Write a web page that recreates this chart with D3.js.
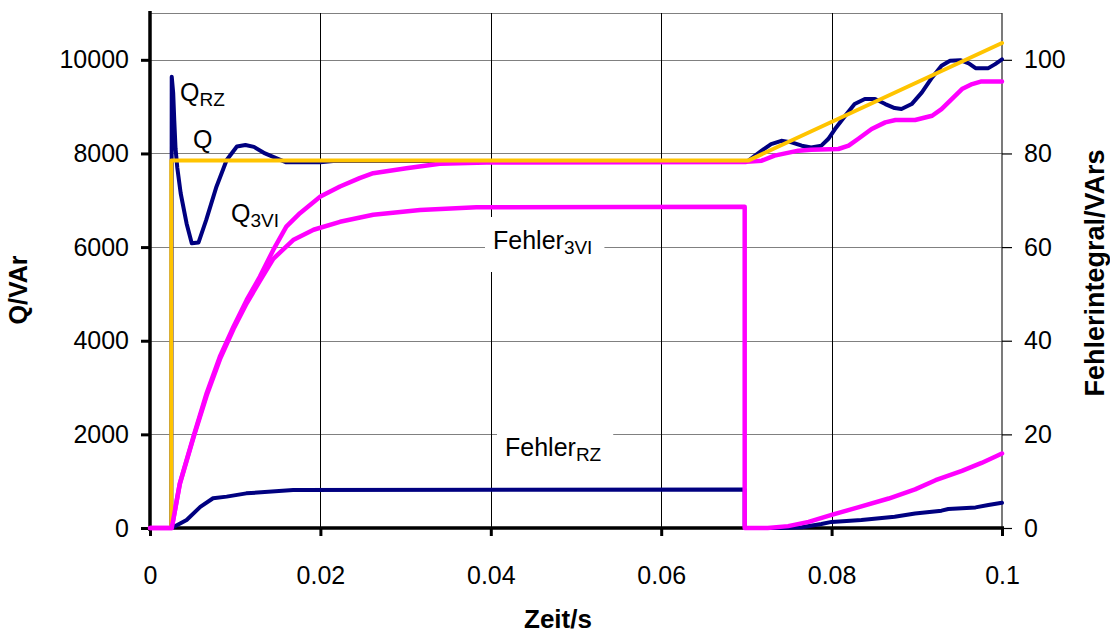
<!DOCTYPE html>
<html>
<head>
<meta charset="utf-8">
<script src="https://cdn.jsdelivr.net/npm/d3@7"></script>
<style>
  html, body { margin: 0; padding: 0; background: #fff; }
  svg { display: block; font-family: "Liberation Sans", Arial, sans-serif; }
</style>
</head>
<body>
<svg id="chart" width="1110" height="633"></svg>
<script>
// Tick values
const timeTicks = [0, 0.02, 0.04, 0.06, 0.08, 0.1];
const qTicks = [0, 2000, 4000, 6000, 8000, 10000];
const errTicks = [0, 20, 40, 60, 80, 100];

// Q (reference reactive power), VAr
const qTime  = [0, 0.0025, 0.0025, 0.0702, 0.1];
const qValue = [0, 0, 7848, 7848, 10360];

// Q_RZ, VAr
const qRzTime  = [0, 0.0025, 0.00255, 0.00272, 0.00285, 0.0030, 0.0032, 0.0036, 0.0043, 0.0049, 0.0057,
  0.0066, 0.0078, 0.009, 0.0102, 0.0112, 0.0122, 0.0135, 0.0148, 0.016, 0.02, 0.0215, 0.0702,
  0.0718, 0.0729, 0.0741, 0.0753, 0.0765, 0.0776, 0.0788, 0.0796, 0.0804, 0.0816, 0.0827, 0.0839,
  0.0851, 0.0863, 0.0874, 0.0882, 0.0894, 0.0906, 0.0918, 0.0929, 0.0939, 0.0951, 0.0961, 0.0969,
  0.0984, 0.0992, 0.1];
const qRzValue = [0, 0, 9640, 9300, 8700, 8100, 7700, 7150, 6500, 6080, 6100,
  6580, 7290, 7860, 8150, 8180, 8140, 8000, 7900, 7810, 7810, 7840, 7840,
  8060, 8200, 8270, 8237, 8166, 8130, 8166, 8308, 8522, 8806, 9055, 9162,
  9162, 9055, 8970, 8948, 9055, 9304, 9624, 9872, 9979, 9993, 9922, 9822,
  9822, 9908, 10010];

// Q_3VI, VAr
const q3viTime  = [0, 0.00255, 0.0035, 0.0051, 0.00665, 0.0082, 0.0098, 0.01135, 0.0129, 0.01447,
  0.016, 0.0176, 0.02, 0.0223, 0.0246, 0.0262, 0.0301, 0.034, 0.0395, 0.07, 0.0718, 0.0733,
  0.0761, 0.0776, 0.0808, 0.082, 0.0831, 0.0847, 0.0863, 0.0875, 0.0898, 0.0918, 0.0929,
  0.0941, 0.0953, 0.0965, 0.0976, 0.1];
const q3viValue = [0, 0, 955, 1951, 2878, 3660, 4301, 4872, 5370, 5940,
  6438, 6724, 7079, 7293, 7472, 7578, 7685, 7778, 7805, 7820, 7846, 7953,
  8060, 8081, 8095, 8166, 8308, 8522, 8664, 8714, 8714, 8806, 8948,
  9162, 9375, 9482, 9539, 9539];

// Fehler_RZ (error integral), VArs
const errRzTime  = [0, 0.00255, 0.0043, 0.0059, 0.0074, 0.009, 0.0113, 0.0168, 0.0698, 0.0698,
  0.0741, 0.0765, 0.0788, 0.08, 0.0835, 0.0874, 0.0898, 0.0929, 0.0937, 0.0969, 0.0984, 0.1];
const errRzValue = [0, 0, 1.7, 4.5, 6.35, 6.7, 7.4, 8.1, 8.2, 0,
  0, 0.15, 0.85, 1.3, 1.7, 2.4, 3.1, 3.7, 4.05, 4.4, 4.9, 5.4];

// Fehler_3VI (error integral), VArs
const err3viTime  = [0, 0.00255, 0.0035, 0.0051, 0.00665, 0.0082, 0.0098, 0.01135, 0.0129, 0.01447,
  0.0168, 0.0192, 0.0223, 0.0262, 0.0317, 0.0383, 0.0698, 0.0698, 0.0725, 0.0749, 0.0773,
  0.08, 0.0831, 0.0867, 0.0898, 0.0922, 0.0953, 0.0976, 0.1];
const err3viValue = [0, 0, 9.4, 19.3, 28.3, 36.0, 42.5, 48.0, 52.8, 57.5,
  61.5, 63.7, 65.4, 66.9, 67.9, 68.5, 68.6, 0, 0, 0.4, 1.3,
  2.8, 4.4, 6.3, 8.25, 10.2, 12.2, 13.9, 15.9];

const NAVY = "#000080", GOLD = "#FFC400", PINK = "#FF00FF";

const svg = d3.select("#chart");
const plotLeft = 150, plotRight = 1002, plotTop = 13, plotBottom = 528;

const x = d3.scaleLinear().domain([0, 0.1]).range([plotLeft, plotRight]);
const yQ = d3.scaleLinear().domain([0, 11000]).range([plotBottom, plotTop]);
const yE = d3.scaleLinear().domain([0, 110]).range([plotBottom, plotTop]);

const zip = (t, v) => t.map((d, i) => [d, v[i]]);

// Grid
const grid = svg.append("g");
grid.selectAll(".hg").data(qTicks.filter(d => d > 0)).join("line")
  .attr("x1", plotLeft).attr("x2", plotRight)
  .attr("y1", d => Math.round(yQ(d)) + 0.5).attr("y2", d => Math.round(yQ(d)) + 0.5)
  .attr("stroke", "#808080").attr("stroke-width", 1.2);
grid.append("line").attr("x1", plotLeft).attr("x2", plotRight)
  .attr("y1", plotTop + 0.5).attr("y2", plotTop + 0.5)
  .attr("stroke", "#808080").attr("stroke-width", 1.2);
grid.selectAll(".vg").data(timeTicks.filter(d => d > 0 && d < 0.1)).join("line")
  .attr("y1", plotTop).attr("y2", plotBottom)
  .attr("x1", d => Math.round(x(d)) + 0.5).attr("x2", d => Math.round(x(d)) + 0.5)
  .attr("stroke", "#000").attr("stroke-width", 1);

// Axes
const fontSize = 25;
const axL = svg.append("g").attr("transform", `translate(${plotLeft},0)`)
  .call(d3.axisLeft(yQ).tickValues(qTicks).tickSize(9).tickPadding(12).tickFormat(d3.format("d")));
const axR = svg.append("g").attr("transform", `translate(${plotRight},0)`)
  .call(d3.axisRight(yE).tickValues(errTicks).tickSize(10).tickPadding(12).tickFormat(d3.format("d")));
const axB = svg.append("g").attr("transform", `translate(0,${plotBottom})`)
  .call(d3.axisBottom(x).tickValues(timeTicks).tickSize(8).tickPadding(30).tickFormat(d => d === 0 ? "0" : String(+d.toFixed(2))));

[axL, axR, axB].forEach(a => {
  a.selectAll("text").attr("font-size", fontSize).attr("fill", "#000")
    .attr("font-family", "'Liberation Sans', Arial, sans-serif");
});
axL.select(".domain").attr("stroke-width", 3.5).attr("d", `M0,${plotTop - 2}V${plotBottom + 3}`);
axL.selectAll(".tick line").attr("stroke-width", 3);
axB.select(".domain").attr("stroke-width", 3.5).attr("d", `M${plotLeft - 2},0H${plotRight + 2}`);
axB.selectAll(".tick line").attr("stroke-width", 3);
axR.select(".domain").attr("stroke-width", 1.3).attr("stroke", "#333").attr("d", `M0,${plotTop}V${plotBottom}`);
axR.selectAll(".tick line").attr("stroke-width", 1.2);

// Curve label with optional white background box
function curveLabel(x0, base, main, sub, boxed) {
  const g = svg.append("g");
  if (boxed) {
    g.append("rect").attr("x", x0 - 8).attr("y", base - 32)
      .attr("width", 0).attr("height", 55).attr("fill", "#fff");
  }
  const t = g.append("text").attr("x", x0).attr("y", base)
    .attr("font-size", fontSize).attr("fill", "#000");
  t.append("tspan").text(main);
  t.append("tspan").attr("font-size", 19).attr("dy", 5).text(sub);
  if (boxed) {
    const w = t.node().getComputedTextLength();
    g.select("rect").attr("width", w + 20);
  }
  return g;
}

curveLabel(493, 249, "Fehler", "3VI", true);
curveLabel(505, 456, "Fehler", "RZ", true);

// Series
const lineQ = d3.line().x(d => x(d[0])).y(d => yQ(d[1]));
const lineE = d3.line().x(d => x(d[0])).y(d => yE(d[1]));

const series = svg.append("g").attr("fill", "none").attr("stroke-linejoin", "round").attr("stroke-linecap", "round");
series.append("path").datum(zip(qRzTime, qRzValue)).attr("d", lineQ).attr("stroke", NAVY).attr("stroke-width", 4);
series.append("path").datum(zip(q3viTime, q3viValue)).attr("d", lineQ).attr("stroke", PINK).attr("stroke-width", 4.5);
series.append("path").datum(zip(qTime, qValue)).attr("d", lineQ).attr("stroke", GOLD).attr("stroke-width", 4);
series.append("path").datum(zip(errRzTime, errRzValue)).attr("d", lineE).attr("stroke", NAVY).attr("stroke-width", 4);
series.append("path").datum(zip(err3viTime, err3viValue)).attr("d", lineE).attr("stroke", PINK).attr("stroke-width", 4.5);

// Labels next to the curves
curveLabel(180, 101, "Q", "RZ", false);
curveLabel(193, 148, "Q", "", false);
curveLabel(231, 222, "Q", "3VI", false);

// Axis titles
svg.append("text").attr("transform", "translate(27,290) rotate(-90)")
  .attr("text-anchor", "middle").attr("font-size", 25).attr("font-weight", "bold").text("Q/VAr");
svg.append("text").attr("transform", "translate(1104,273) rotate(-90)")
  .attr("text-anchor", "middle").attr("font-size", 27).attr("font-weight", "bold").text("Fehlerintegral/VArs");
svg.append("text").attr("x", 558).attr("y", 628)
  .attr("text-anchor", "middle").attr("font-size", 26).attr("font-weight", "bold").text("Zeit/s");
</script>
</body>
</html>
